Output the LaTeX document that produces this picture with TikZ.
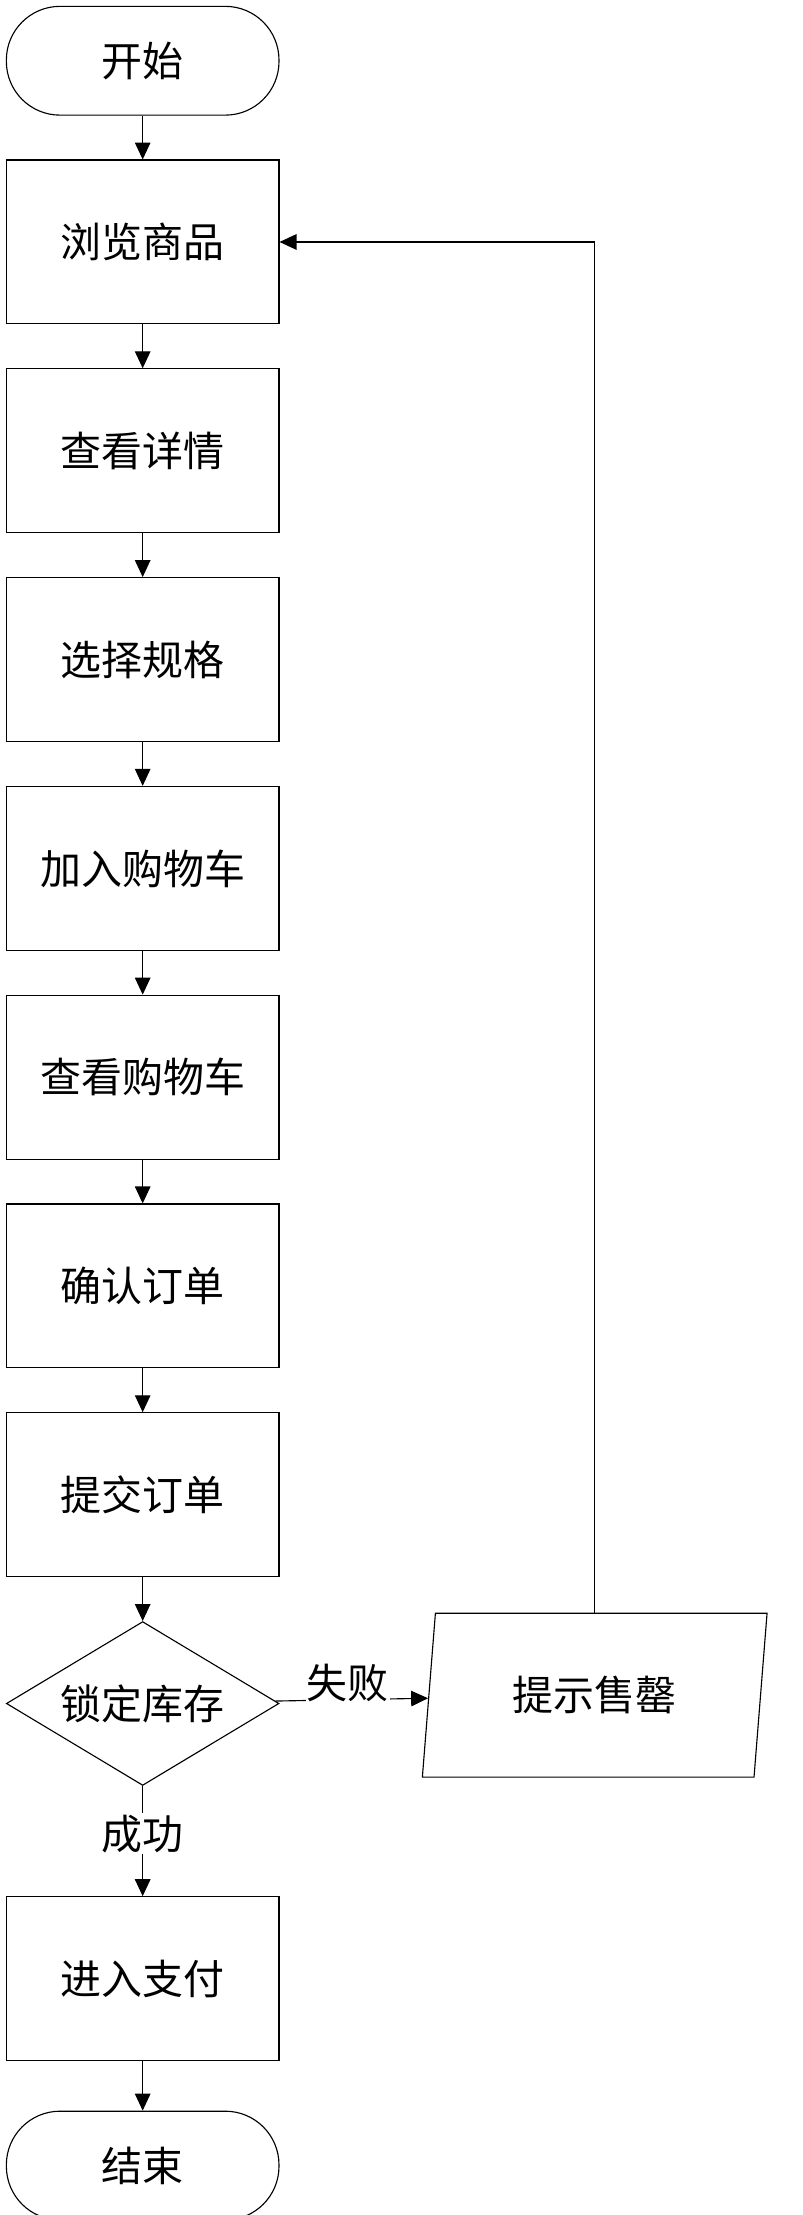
\documentclass[tikz,border=0pt]{standalone}
\usepackage{fontspec}
\setmainfont{Noto Sans CJK SC}
\usetikzlibrary{positioning}
\usetikzlibrary{shapes.geometric}
\usetikzlibrary{arrows.meta}

\begin{document}
\begin{tikzpicture}[x=1pt, y=-1pt, ->, >={Triangle[length=12pt,width=11pt]}, draw=black, line width=0.8pt, node distance=31pt, font=\fontsize{29}{34}\selectfont]
		\tikzstyle{term}=[draw=black,rectangle,rounded corners=38pt,minimum width=193pt,minimum height=77pt,inner sep=0pt]
		\tikzstyle{block}=[draw=black,rectangle,minimum width=193pt,minimum height=116pt,inner sep=0pt]
		\tikzstyle{decide}=[draw=black,diamond,aspect=1.66,minimum width=193pt,minimum height=116pt,inner sep=0pt]
		\tikzstyle{io}=[draw=black,trapezium,trapezium left angle=71,trapezium right angle=109,trapezium stretches body,minimum width=244pt,minimum height=116pt,inner sep=0pt]
		\tikzstyle{annot} = [fill=white, inner sep=1pt]

		\useasboundingbox (0,0) rectangle (568,1568);
		\node[term] (start) at (101,43) {开始};
		\node[block, below = 31pt of start] (browse) {浏览商品};
		\node[block, below = of browse] (detail) {查看详情};
		\node[block, below = of detail] (spec) {选择规格};
		\node[block, below = of spec] (add) {加入购物车};
		\node[block, below = of add] (cart) {查看购物车};
		\node[block, below = of cart] (confirm) {确认订单};
		\node[block, below = of confirm] (submit) {提交订单};
		\node[decide, below = of submit] (stock) {锁定库存};
		\node[io] (soldout) at (421,1200) {提示售罄};
		\node[block, below = 78pt of stock] (pay) {进入支付};
		\node[term, below = 35pt of pay] (stop) {结束};

		\path (start) edge (browse);
		\path (browse) edge (detail);
		\path (detail) edge (spec);
		\path (spec) edge (add);
		\path (add) edge (cart);
		\path (cart) edge (confirm);
		\path (confirm) edge (submit);
		\path (submit) edge (stock);
		\path (stock) edge (soldout);
		\path (stock) edge (pay);
		\path (pay) edge (stop);
		\draw (soldout.north) |- (browse.east);

		\node[annot, above right = 0pt and 18pt of stock.east] {失败};
		\node[annot] at (101,1298) {成功};
\end{tikzpicture}
\end{document}
